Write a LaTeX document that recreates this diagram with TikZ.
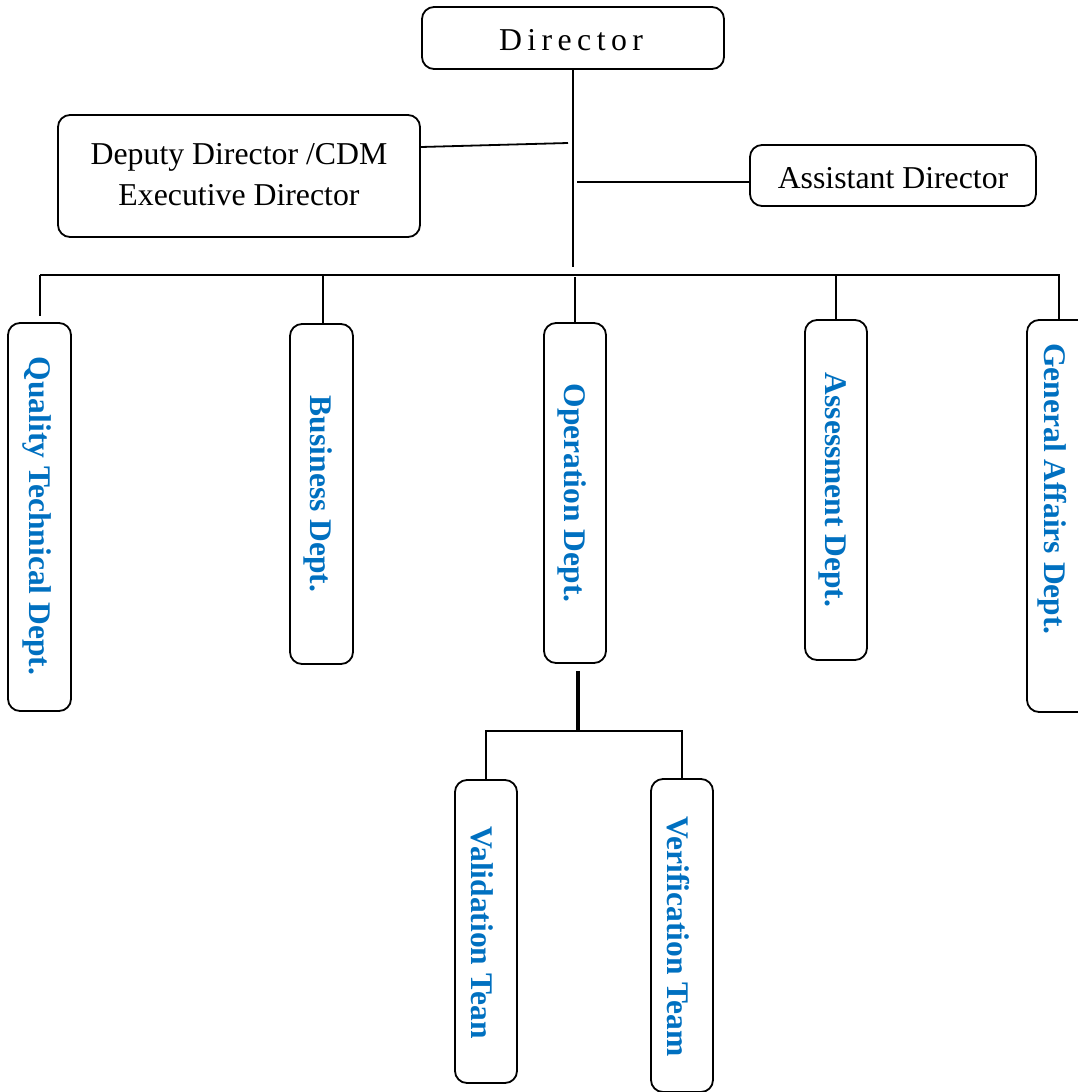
\documentclass[tikz,border=0pt]{standalone}
\usepackage{fontspec}
\setmainfont{Liberation Serif}
\definecolor{deptblue}{RGB}{0,112,192}
\begin{document}
\begin{tikzpicture}[x=1pt,y=-1pt,
  box/.style={draw=black, line width=1.8pt, rounded corners=12pt, inner sep=0pt},
  headtext/.style={font=\fontsize{31.8}{41}\selectfont, align=center, inner sep=0pt},
  depttext/.style={font=\fontsize{31.5}{38}\selectfont\bfseries, text=deptblue, rotate=-90, inner sep=0pt},
  link/.style={line width=1.8pt, draw=black}]

\useasboundingbox (0,0) rectangle (1078,1092);
\clip (0,0) rectangle (1078,1092);

% --- top management ---
\node[box, minimum width=302pt, minimum height=62pt] (dir) at (573,38) {};
\node[headtext] (dirt) at (571,40) {\addfontfeature{LetterSpace=17}Director};

\node[box, minimum width=362pt, minimum height=122pt] (dep) at (239,176) {};
\node[headtext] (dept) at (239,175) {Deputy Director /CDM\\Executive Director};

\node[box, minimum width=286pt, minimum height=61pt] (asst) at (893,175.5) {};
\node[headtext] (asstt) at (893,178) {Assistant Director};

% --- departments ---
\node[box, minimum width=63pt, minimum height=388pt] (q)  at (39.5,517) {};
\node[box, minimum width=63pt, minimum height=340pt] (b)  at (321.5,494) {};
\node[box, minimum width=62pt, minimum height=340pt] (o)  at (575,493) {};
\node[box, minimum width=62pt, minimum height=340pt] (a)  at (836,490) {};
\node[box, minimum width=63pt, minimum height=392pt] (g)  at (1058.5,516) {};
\node[box, minimum width=62pt, minimum height=303pt] (va) at (486,931.5) {};
\node[box, minimum width=62pt, minimum height=313pt] (ve) at (682,935.5) {};

\node[depttext] (qt)  at (37,516)    {Quality Technical Dept.};
\node[depttext] (bt)  at (318,494)   {Business Dept.};
\node[depttext] (ot)  at (572,493)   {Operation Dept.};
\node[depttext] (at)  at (833,490)   {Assessment Dept.};
\node[depttext] (gt)  at (1052,489)  {General Affairs Dept.};
\node[depttext] (vat) at (482,932.5) {Validation Tean};
\node[depttext] (vet) at (678,936.5) {Verification Team};

% --- connectors ---
\coordinate (spineEnd) at (573,267);
\coordinate (depJ) at (568,143);
\coordinate (asstJ) at (577,182);
\coordinate (busL) at (40,275);
\coordinate (busR) at (1060,275);
\coordinate (opJ) at (578,731);

\draw[link] (dir.south) -- (spineEnd);
\draw[link] ([yshift=29pt]dep.east) -- (depJ);
\draw[link] (asstJ) -- ([yshift=-6.5pt]asst.west);

\draw[link] (busL) -- (busR);
\draw[link] (busL) -- ([yshift=6pt]q.north -| busL);
\draw[link] ([xshift=1.5pt]b.north |- busL) -- ([xshift=1.5pt]b.north);
\draw[link] ([yshift=-2pt]o.north |- busL) -- (o.north);
\draw[link] (a.north |- busL) -- (a.north);
\draw[link] ([xshift=0.5pt]g.north |- busR) -- ([xshift=0.5pt]g.north);

\draw[line width=3.6pt] ([xshift=3pt,yshift=-7pt]o.south) -- (opJ);
\draw[link] (va.north) -- (va.north |- opJ) -- (ve.north |- opJ) -- (ve.north);

\end{tikzpicture}
\end{document}
